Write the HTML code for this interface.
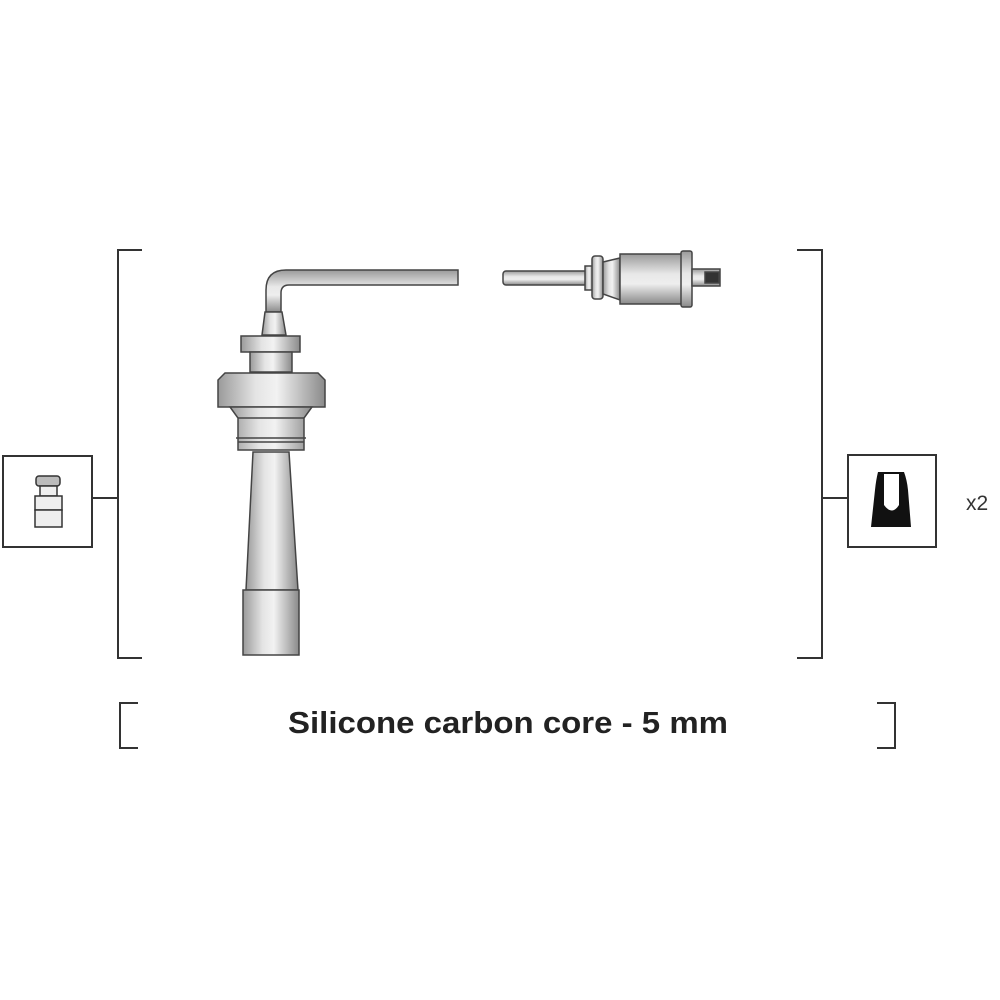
<!DOCTYPE html>
<html><head><meta charset="utf-8"><style>
html,body{margin:0;padding:0;background:#fff;}
svg{display:block;}
</style></head><body>
<svg width="1000" height="1000" viewBox="0 0 1000 1000" xmlns="http://www.w3.org/2000/svg">
<defs>
<linearGradient id="g" x1="0" x2="1" y1="0" y2="0">
<stop offset="0" stop-color="#9a9a9a"/><stop offset="0.35" stop-color="#e4e4e4"/><stop offset="0.55" stop-color="#f2f2f2"/><stop offset="1" stop-color="#8a8a8a"/>
</linearGradient>
<linearGradient id="gv" x1="0" x2="0" y1="0" y2="1">
<stop offset="0" stop-color="#9a9a9a"/><stop offset="0.4" stop-color="#e8e8e8"/><stop offset="0.6" stop-color="#eeeeee"/><stop offset="1" stop-color="#8a8a8a"/>
</linearGradient>
</defs>
<g fill="none" stroke="#333" stroke-width="2">
<polyline points="142,250 118,250 118,658 142,658"/>
<line x1="92" y1="498" x2="118" y2="498"/>
<polyline points="797,250 822,250 822,658 797,658"/>
<line x1="822" y1="498" x2="848" y2="498"/>
<polyline points="138,703 120,703 120,748 138,748"/>
<polyline points="877,703 895,703 895,748 877,748"/>
<rect x="3" y="456" width="89" height="91"/>
<rect x="848" y="455" width="88" height="92"/>
</g>
<g stroke="#333" stroke-width="1.5" fill="#eee">
<rect x="36" y="476" width="24" height="10" rx="3" fill="#bbb"/>
<rect x="40" y="486" width="17" height="10"/>
<rect x="35" y="496" width="27" height="14"/>
<rect x="35" y="510" width="27" height="17"/>
</g>
<path d="M878,472 L904,472 Q907,480 908,490 L911,527 L871,527 L875,490 Q876,480 878,472 Z" fill="#111"/>
<path d="M884,474 L899,474 L899,505 Q892,516 884,505 Z" fill="#fff"/>
<text x="966" y="510" font-family="Liberation Sans, sans-serif" font-size="21" fill="#333">x2</text>
<text x="288" y="733" textLength="440" lengthAdjust="spacingAndGlyphs" font-family="Liberation Sans, sans-serif" font-weight="bold" font-size="31" fill="#222">Silicone carbon core - 5 mm</text>
<g stroke="#444" stroke-width="1.5">
<path d="M266,312 L266,290 Q266,270 286,270 L458,270 L458,285 L289,285 Q281,285 281,293 L281,312 Z" fill="url(#gv)"/>
<path d="M262,335 L265,312 L282,312 L286,335 Z" fill="url(#g)"/>
<rect x="241" y="336" width="59" height="16" fill="url(#g)"/>
<rect x="250" y="352" width="42" height="20" fill="url(#g)"/>
<path d="M225,373 L318,373 L325,380 L325,407 L218,407 L218,380 Z" fill="url(#g)"/>
<path d="M230,407 L312,407 L304,418 L304,450 L238,450 L238,418 Z" fill="url(#g)"/>
<line x1="238" y1="418" x2="304" y2="418"/>
<line x1="236" y1="438" x2="306" y2="438"/>
<line x1="238" y1="442" x2="304" y2="442"/>
<path d="M253,452 L289,452 L298,590 L246,590 Z" fill="url(#g)"/>
<rect x="243" y="590" width="56" height="65" fill="url(#g)"/>
</g>
<g stroke="#444" stroke-width="1.5">
<rect x="503" y="271" width="84" height="14" rx="3" fill="url(#gv)"/>
<rect x="585" y="266" width="8" height="24" fill="url(#g)"/>
<rect x="592" y="256" width="11" height="43" rx="3" fill="url(#g)"/>
<path d="M603,262 L620,258 L620,300 L603,294 Z" fill="url(#g)"/>
<rect x="620" y="254" width="62" height="50" fill="url(#gv)"/>
<rect x="681" y="251" width="11" height="56" rx="2" fill="url(#gv)"/>
<rect x="692" y="269" width="28" height="17" fill="url(#gv)"/>
<rect x="705" y="272" width="14" height="11" fill="#333"/>
</g>
</svg>
</body></html>
